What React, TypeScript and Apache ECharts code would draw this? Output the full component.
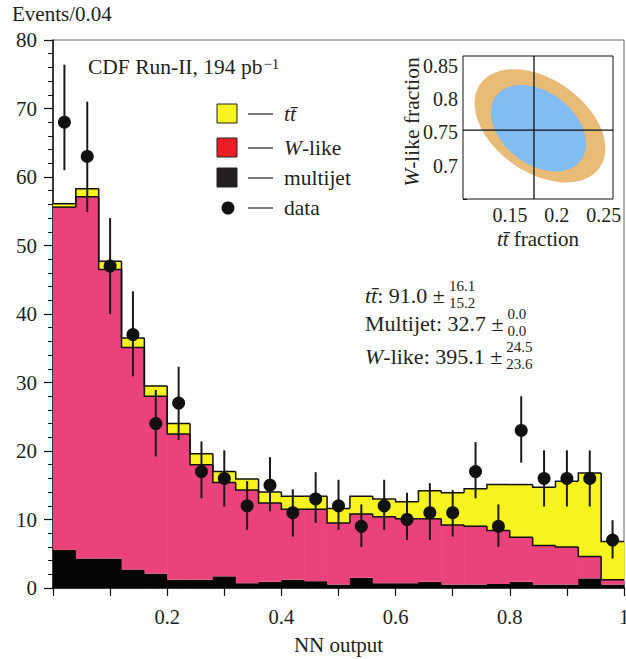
import React, { useEffect, useRef } from 'react';
import * as echarts from 'echarts';

// ---------- data ----------
const BIN_WIDTH = 0.04;
const binLow = [0, 0.04, 0.08, 0.12, 0.16, 0.2, 0.24, 0.28, 0.32, 0.36, 0.4, 0.44, 0.48, 0.52, 0.56, 0.6, 0.64, 0.68, 0.72, 0.76, 0.8, 0.84, 0.88, 0.92, 0.96];
const multijet = [5.6, 4.3, 4.3, 2.7, 2.1, 1.2, 1.2, 1.7, 0.7, 0.9, 1.2, 1.0, 0.5, 1.5, 0.7, 0.7, 0.9, 0.5, 0.5, 0.6, 0.9, 0.5, 0.5, 1.4, 0.5];
const wlike = [50.0, 52.8, 42.2, 32.4, 25.9, 21.3, 16.8, 13.7, 13.6, 11.5, 10.3, 10.5, 9.0, 9.3, 9.7, 9.4, 9.2, 8.7, 8.5, 7.8, 6.5, 5.7, 5.5, 3.2, 0.7];
const ttbar = [0.5, 1.2, 1.2, 1.4, 1.5, 1.5, 1.6, 1.6, 1.6, 1.6, 1.9, 1.9, 2.1, 2.6, 2.6, 2.5, 4.1, 4.7, 5.5, 6.7, 7.7, 8.5, 9.6, 12.2, 5.6];
const dataCounts = [68, 63, 47, 37, 24, 27, 17, 16, 12, 15, 11, 13, 12, 9, 12, 10, 11, 11, 17, 9, 23, 16, 16, 16, 7];
const errHigh = [76.4, 71.0, 54.0, 43.3, 28.9, 32.3, 21.4, 20.1, 15.6, 19.1, 14.4, 16.9, 15.8, 12.2, 15.8, 13.9, 15.3, 14.3, 21.3, 12.2, 28.0, 20.1, 20.1, 20.1, 9.9];
const errLow = [61.0, 54.9, 40.0, 30.9, 19.2, 21.6, 13.1, 11.9, 8.5, 11.2, 7.5, 9.5, 8.5, 6.0, 8.5, 7.0, 7.0, 7.5, 13.1, 6.0, 18.3, 11.9, 11.9, 11.9, 4.3];

const xTickLabels = ['0.2', '0.4', '0.6', '0.8', '1'];
const yTickLabels = ['0', '10', '20', '30', '40', '50', '60', '70', '80'];

// inset: fit contours [cx (tt fraction), cy (W-like fraction), halfWidth, halfHeight, correlation]
const contourOuter = [0.1821, 0.760, 0.0697, 0.0851, -0.4];
const contourInner = [0.1805, 0.7565, 0.0507, 0.065, -0.36];
const bestFit = [0.1757, 0.7535];
const insetXLabels = ['0.15', '0.2', '0.25'];
const insetYLabels = ['0.7', '0.75', '0.8', '0.85'];

const fitNames = ['tt', 'Multijet', 'W-like'];
const fitValues = ['91.0', '32.7', '395.1'];
const fitErrUp = ['16.1', '0.0', '24.5'];
const fitErrDown = ['15.2', '0.0', '23.6'];

// ---------- styles ----------
const SERIF = 'Liberation Serif';
const INK = '#231F20';
const PINK = '#EA437B';
const YELLOW = '#F6F31E';
const BLACK = '#050505';
const ORANGE = '#E8BB77';
const BLUE = '#82BCF2';
const TBAR = 't\u0304';

function measure(text: string, size: number, italic = false) {
  const c = document.createElement('canvas').getContext('2d')!;
  c.font = `${italic ? 'italic ' : ''}${size}px "Liberation Serif"`;
  return c.measureText(text).width;
}

export default function App() {
  const ref = useRef<HTMLDivElement>(null);

  useEffect(() => {
    const chart = echarts.init(ref.current!, null, { renderer: 'svg' });

    const histData = binLow.map((lo, i) => [lo, lo + BIN_WIDTH, multijet[i], wlike[i], ttbar[i]]);
    const pinkTop = binLow.map((_, i) => multijet[i] + wlike[i]);
    const totalTop = binLow.map((_, i) => multijet[i] + wlike[i] + ttbar[i]);
    const outlineData = binLow.map((lo, i) => [
      lo, lo + BIN_WIDTH, pinkTop[i], totalTop[i],
      i > 0 ? pinkTop[i - 1] : pinkTop[i], i > 0 ? totalTop[i - 1] : totalTop[i],
    ]);
    const centers = binLow.map((lo) => lo + BIN_WIDTH / 2);
    const pointData = centers.map((c, i) => [c, dataCounts[i]]);
    const errData = centers.map((c, i) => [c, errLow[i], errHigh[i]]);

    const near = (v: number, s: string) => Math.abs(v - parseFloat(s)) < 1e-6;
    const txt = (size: number) => ({ fontFamily: SERIF, fontSize: size, fill: INK });
    const italicRich = (size: number) => ({ i: { fontStyle: 'italic', fontFamily: SERIF, fontSize: size, fill: INK } });

    const legendRows = [
      { y: 114, kind: 'rect', color: YELLOW, text: `{i|t${TBAR}}` },
      { y: 148, kind: 'rect', color: '#EE1C25', text: '{i|W}-like' },
      { y: 178, kind: 'rect', color: '#231F20', text: 'multijet' },
      { y: 208, kind: 'dot', color: '#111', text: 'data' },
    ];

    const graphics: any[] = [];
    graphics.push({
      type: 'text', x: 12, y: 14,
      style: { text: 'Events/0.04', ...txt(21), verticalAlign: 'middle', align: 'left' },
    });
    graphics.push({
      type: 'text', x: 88, y: 67,
      style: {
        text: 'CDF Run-II, 194 pb{sup|\u22121}', ...txt(21.5),
        verticalAlign: 'middle', align: 'left',
        rich: { sup: { fontSize: 15, fontFamily: SERIF, verticalAlign: 'top', lineHeight: 15, fill: INK, padding: [0, 0, 0, 1] } },
      },
    });
    legendRows.forEach((r) => {
      if (r.kind === 'rect') {
        graphics.push({ type: 'rect', shape: { x: 217, y: r.y - 10, width: 20, height: 19 }, style: { fill: r.color, stroke: '#222', lineWidth: 1 } });
      } else {
        graphics.push({ type: 'circle', shape: { cx: 228, cy: r.y, r: 6.5 }, style: { fill: r.color } });
      }
      graphics.push({ type: 'line', shape: { x1: 248, y1: r.y, x2: 273, y2: r.y }, style: { stroke: '#222', lineWidth: 1.2 } });
      graphics.push({
        type: 'text', x: 284, y: r.y,
        style: { text: r.text, ...txt(21.5), verticalAlign: 'middle', align: 'left', rich: italicRich(21.5) },
      });
    });

    const statY = [295, 323, 356];
    const STAT = 22;
    fitNames.forEach((name, k) => {
      let label = name;
      let width = 0;
      if (name === 'tt') {
        label = `{i|t${TBAR}}`;
        width = measure('tt', STAT, true);
      } else if (name === 'W-like') {
        label = '{i|W}-like';
        width = measure('W', STAT, true) + measure('-like', STAT);
      } else {
        width = measure(name, STAT);
      }
      const rest = `: ${fitValues[k]} \u00b1`;
      width += measure(rest, STAT);
      graphics.push({
        type: 'text', x: 365, y: statY[k],
        style: { text: label + rest, ...txt(STAT), verticalAlign: 'middle', align: 'left', rich: italicRich(STAT) },
      });
      const fx = 365 + width + 4;
      graphics.push({ type: 'text', x: fx, y: statY[k] - 9, style: { text: fitErrUp[k], ...txt(15), verticalAlign: 'middle', align: 'left' } });
      graphics.push({ type: 'text', x: fx, y: statY[k] + 8, style: { text: fitErrDown[k], ...txt(15), verticalAlign: 'middle', align: 'left' } });
    });

    graphics.push({
      type: 'text', x: 412, y: 122, rotation: Math.PI / 2, z: 10,
      style: { text: '{i|W}-like fraction', ...txt(21.5), verticalAlign: 'middle', align: 'center', rich: italicRich(21.5) },
    });
    graphics.push({
      type: 'text', x: 538, y: 239, z: 10,
      style: { text: `{i|t${TBAR}} fraction`, ...txt(21), verticalAlign: 'middle', align: 'center', rich: italicRich(21) },
    });

    const option: any = {
      animation: false,
      backgroundColor: '#fff',
      textStyle: { fontFamily: SERIF },
      grid: [
        { left: 53, top: 40, right: 2, bottom: 71, show: true, borderColor: '#666', borderWidth: 1, backgroundColor: 'transparent', outerBoundsMode: 'none', containLabel: false },
        { left: 463, top: 56, width: 150, height: 143, show: true, borderColor: '#111', borderWidth: 1, backgroundColor: '#fff', z: 5, outerBoundsMode: 'none', containLabel: false },
      ],
      xAxis: [
        {
          type: 'value', gridIndex: 0, min: 0, max: 1, interval: 0.1,
          name: 'NN output', nameLocation: 'middle', nameGap: 46,
          nameTextStyle: { fontFamily: SERIF, fontSize: 21, color: INK },
          axisLine: { show: true, onZero: false, lineStyle: { color: '#111', width: 1.5 } },
          axisTick: { show: true, inside: false, length: 8, lineStyle: { color: '#111', width: 1.2 } },
          axisLabel: {
            margin: 18, fontFamily: SERIF, fontSize: 20.5, color: INK, showMinLabel: true, showMaxLabel: true, hideOverlap: false,
            formatter: (v: number) => xTickLabels.find((s) => near(v, s)) ?? '',
          },
          splitLine: { show: false },
        },
        {
          type: 'value', gridIndex: 1, min: 0.1, max: 0.26, interval: 0.05,
          axisLine: { show: false },
          axisTick: { show: true, inside: true, length: 7, lineStyle: { color: '#111', width: 1 } },
          axisLabel: {
            margin: 6, fontFamily: SERIF, fontSize: 20, color: INK, showMaxLabel: false,
            formatter: (v: number) => insetXLabels.find((s) => near(v, s)) ?? '',
          },
          splitLine: { show: false },
        },
      ],
      yAxis: [
        {
          type: 'value', gridIndex: 0, min: 0, max: 80, interval: 10,
          axisLine: { show: true, onZero: false, lineStyle: { color: '#111', width: 1.5 } },
          axisTick: { show: true, inside: false, length: 9, lineStyle: { color: '#111', width: 1.2 } },
          minorTick: { show: true, splitNumber: 5, length: 5, lineStyle: { color: '#111', width: 1 } },
          axisLabel: {
            margin: 16, fontFamily: SERIF, fontSize: 21, color: INK,
            formatter: (v: number) => yTickLabels.find((s) => near(v, s)) ?? '',
          },
          splitLine: { show: false },
        },
        {
          type: 'value', gridIndex: 1, min: 0.65, max: 0.865, interval: 0.05,
          axisLine: { show: false },
          axisTick: { show: true, inside: true, length: 4, lineStyle: { color: '#111', width: 1 } },
          axisLabel: {
            margin: 5, fontFamily: SERIF, fontSize: 20, color: INK, showMaxLabel: false,
            formatter: (v: number) => insetYLabels.find((s) => near(v, s)) ?? '',
          },
          splitLine: { show: false },
        },
      ],
      series: [
        {
          type: 'custom', name: 'stack', xAxisIndex: 0, yAxisIndex: 0, data: histData, z: 2,
          renderItem: (_p: any, api: any) => {
            const lo = api.value(0), hi = api.value(1), m = api.value(2), w = api.value(3), t = api.value(4);
            const x0 = api.coord([lo, 0])[0], x1 = api.coord([hi, 0])[0];
            const y = (v: number) => api.coord([lo, v])[1];
            const rect = (a: number, b: number, color: string) => ({
              type: 'rect', shape: { x: x0, y: y(b), width: x1 - x0 + 0.6, height: y(a) - y(b) }, style: { fill: color },
            });
            return { type: 'group', children: [rect(0, m, BLACK), rect(m, m + w, PINK), rect(m + w, m + w + t, YELLOW)] };
          },
        },
        {
          type: 'custom', name: 'outline', xAxisIndex: 0, yAxisIndex: 0, data: outlineData, z: 3,
          renderItem: (_p: any, api: any) => {
            const lo = api.value(0), hi = api.value(1);
            const xa = api.coord([lo, 0])[0], xb = api.coord([hi, 0])[0];
            const y = (v: number) => api.coord([lo, v])[1];
            const step = (prev: number, cur: number) => ({
              type: 'polyline', shape: { points: [[xa, y(prev)], [xa, y(cur)], [xb, y(cur)]] },
              style: { stroke: '#111', lineWidth: 1.5, fill: null },
            });
            return { type: 'group', children: [step(api.value(4), api.value(2)), step(api.value(5), api.value(3))] };
          },
        },
        {
          type: 'custom', name: 'errors', xAxisIndex: 0, yAxisIndex: 0, data: errData, z: 4,
          renderItem: (_p: any, api: any) => {
            const a = api.coord([api.value(0), api.value(1)]);
            const b = api.coord([api.value(0), api.value(2)]);
            return { type: 'line', shape: { x1: a[0], y1: a[1], x2: b[0], y2: b[1] }, style: { stroke: '#1a1a1a', lineWidth: 2 } };
          },
        },
        {
          type: 'scatter', name: 'data', xAxisIndex: 0, yAxisIndex: 0, data: pointData, z: 5,
          symbol: 'circle', symbolSize: 13, itemStyle: { color: '#111', opacity: 1 },
        },
        {
          type: 'custom', name: 'contours', xAxisIndex: 1, yAxisIndex: 1, z: 6,
          data: [
            { value: contourOuter, itemStyle: { color: ORANGE } },
            { value: contourInner, itemStyle: { color: BLUE } },
          ],
          renderItem: (_p: any, api: any) => {
            const cx = api.value(0), cy = api.value(1), sx = api.value(2), sy = api.value(3), rho = api.value(4);
            const s = Math.sqrt(1 - rho * rho);
            const pts: number[][] = [];
            for (let k = 0; k <= 120; k++) {
              const t = (k / 120) * 2 * Math.PI;
              pts.push(api.coord([cx + sx * Math.cos(t), cy + sy * (rho * Math.cos(t) + s * Math.sin(t))]));
            }
            return { type: 'polygon', shape: { points: pts }, style: { fill: api.visual('color') } };
          },
        },
        {
          type: 'custom', name: 'best fit', xAxisIndex: 1, yAxisIndex: 1, z: 7,
          data: [bestFit],
          renderItem: (params: any, api: any) => {
            const p = api.coord([api.value(0), api.value(1)]);
            const cs = params.coordSys;
            const st = { stroke: '#111', lineWidth: 1.3 };
            return {
              type: 'group', children: [
                { type: 'line', shape: { x1: p[0], y1: cs.y, x2: p[0], y2: cs.y + cs.height }, style: st },
                { type: 'line', shape: { x1: cs.x, y1: p[1], x2: cs.x + cs.width, y2: p[1] }, style: st },
              ],
            };
          },
        },
      ],
      graphic: graphics,
    };

    chart.setOption(option);
    return () => chart.dispose();
  }, []);

  return <div ref={ref} style={{ position: 'fixed', left: 0, top: 0, width: 626, height: 659, background: '#fff' }} />;
}
